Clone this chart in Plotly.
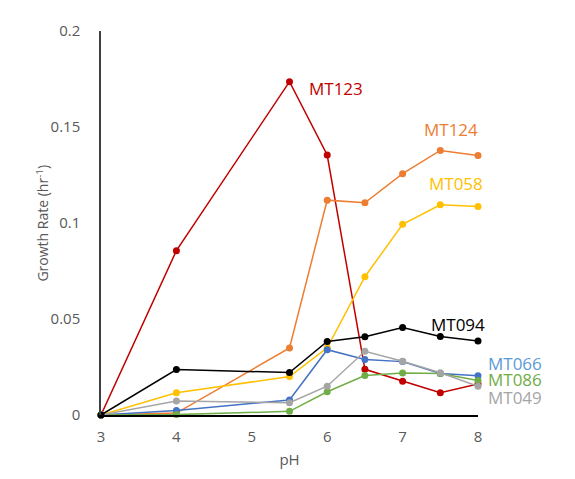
import plotly.graph_objects as go

ph = [3, 4, 5.5, 6, 6.5, 7, 7.5, 8]

mt123 = [0, 0.0856, 0.1736, 0.1354, 0.0238, 0.0176, 0.0116, 0.0162]
mt124 = [0, 0.001, 0.0349, 0.1119, 0.1105, 0.1257, 0.1378, 0.1351]
mt058 = [0, 0.0116, 0.0200, 0.0350, 0.0720, 0.0993, 0.1095, 0.1086]
mt066 = [0, 0.0024, 0.0078, 0.0340, 0.0289, 0.0278, 0.0216, 0.0204]
mt086 = [0, 0.0002, 0.0019, 0.0121, 0.0206, 0.0219, 0.0216, 0.0180]
mt049 = [0, 0.0073, 0.0064, 0.0150, 0.0332, 0.0280, 0.0220, 0.0150]
mt094 = [0, 0.0237, 0.0221, 0.0383, 0.0408, 0.0456, 0.0409, 0.0385]

series = [
    ("MT123", mt123, "#C00000", "#C00000"),
    ("MT124", mt124, "#ED7D31", "#ED7D31"),
    ("MT058", mt058, "#FFC000", "#FFC000"),
    ("MT066", mt066, "#4472C4", "#5B9BD5"),
    ("MT086", mt086, "#70AD47", "#70AD47"),
    ("MT049", mt049, "#A5A5A5", "#A5A5A5"),
    ("MT094", mt094, "#000000", "#000000"),
]

# label anchor points (pH, rate, x shift in px) next to the lines
label_pos = {
    "MT123": (5.73, 0.1700, 0),
    "MT124": (7.26, 0.1489, 0),
    "MT058": (7.32, 0.1204, 0),
    "MT094": (7.35, 0.0473, 0),
    "MT066": (8, 0.0266, 8),
    "MT086": (8, 0.0183, 8),
    "MT049": (8, 0.0093, 8),
}

fig = go.Figure()
for name, vals, color, lab_color in series:
    fig.add_trace(go.Scatter(
        x=ph, y=vals, mode="lines+markers", name=name,
        line=dict(color=color, width=1.5),
        marker=dict(color=color, size=7),
        cliponaxis=False,
    ))
    lx, ly, shift = label_pos[name]
    fig.add_annotation(x=lx, y=ly, text=name, showarrow=False,
                       xanchor="left", yanchor="middle", xshift=shift,
                       font=dict(color=lab_color, size=17))

fig.add_annotation(
    xref="paper", yref="paper", x=-0.155, y=0.5,
    text="Growth Rate (hr<sup>-1</sup>)", textangle=-90, showarrow=False,
    xanchor="center", yanchor="middle", font=dict(size=14, color="#595959"),
)

fig.update_layout(
    width=575, height=479,
    margin=dict(l=93, r=105, t=17, b=72),
    paper_bgcolor="white", plot_bgcolor="white",
    showlegend=False,
    font=dict(family="Open Sans, sans-serif", color="#595959", size=15),
)
fig.update_xaxes(
    range=[3, 8], tickvals=[3, 4, 5, 6, 7, 8],
    showgrid=False, zeroline=False,
    showline=True, linecolor="#000000", linewidth=1.5,
    ticks="", ticklabelstandoff=7,
    title=dict(text="pH", font=dict(size=15), standoff=10),
)
fig.update_yaxes(
    range=[0, 0.2], tickvals=[0, 0.05, 0.1, 0.15, 0.2],
    ticktext=["0", "0.05", "0.1", "0.15", "0.2"],
    showgrid=False, zeroline=False,
    showline=True, linecolor="#404040", linewidth=1.5,
    ticks="", ticklabelstandoff=16,
)

fig.write_html("out.html")
